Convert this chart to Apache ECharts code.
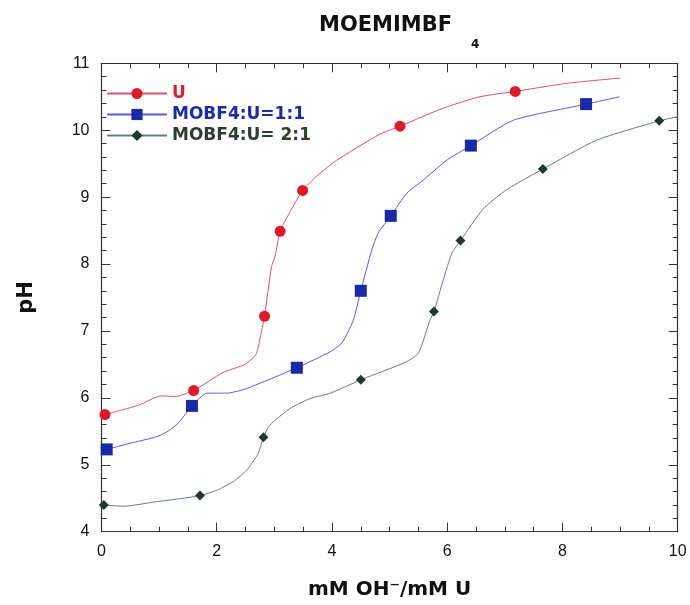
<!DOCTYPE html>
<html>
<head>
<meta charset="utf-8">
<script src="https://cdn.jsdelivr.net/npm/echarts@6/dist/echarts.min.js"></script>
<style>
  html, body { margin: 0; padding: 0; background: #fff; }
  #chart { width: 690px; height: 605px; }
</style>
</head>
<body>
<div id="chart"></div>
<script>
// Titration curves: pH versus added base (mM OH-/mM U)
const seriesNames = ['U', 'MOBF4:U=1:1', 'MOBF4:U= 2:1'];

// Measured points (drawn with markers)
const uPoints = [[0.06, 5.75], [1.60, 6.11], [2.83, 7.22], [3.10, 8.49], [3.49, 9.10], [5.18, 10.06], [7.18, 10.58]];
const mo11Points = [[0.09, 5.23], [1.57, 5.88], [3.39, 6.45], [4.50, 7.60], [5.02, 8.72], [6.41, 9.77], [8.41, 10.39]];
const mo21Points = [[0.04, 4.40], [1.71, 4.54], [2.81, 5.41], [4.50, 6.27], [5.77, 7.29], [6.23, 8.35], [7.66, 9.42], [9.68, 10.14]];

// Continuous titration readings between the marked points (line only)
const uTrace = [[0.64, 5.89], [1.04, 6.03], [1.28, 6.02], [2.11, 6.38], [2.49, 6.50], [2.68, 6.65], [2.78, 7.01],
  [2.95, 7.96], [3.01, 8.11], [3.24, 8.73], [3.73, 9.31], [4.08, 9.55], [4.83, 9.94], [5.93, 10.33], [6.57, 10.50],
  [8.07, 10.70], [9.00, 10.78]];
const mo11Trace = [[0.49, 5.32], [0.96, 5.42], [1.13, 5.49], [1.33, 5.62], [1.83, 6.07], [2.17, 6.07], [2.52, 6.14],
  [3.97, 6.69], [4.17, 6.82], [4.37, 7.16], [4.69, 8.21], [4.80, 8.46], [5.30, 9.06], [5.55, 9.23], [5.99, 9.55],
  [7.15, 10.15], [8.99, 10.50]];
const mo21Trace = [[0.38, 4.38], [0.96, 4.45], [1.42, 4.50], [2.00, 4.62], [2.29, 4.75], [2.52, 4.92], [2.72, 5.17],
  [2.92, 5.59], [3.27, 5.84], [3.62, 5.99], [3.97, 6.07], [5.27, 6.53], [5.50, 6.67], [5.70, 7.16], [5.93, 7.76],
  [6.08, 8.16], [6.62, 8.82], [7.03, 9.11], [8.59, 9.85], [10.00, 10.20]];

const xTicks = [0, 2, 4, 6, 8, 10];
const yTicks = [4, 5, 6, 7, 8, 9, 10, 11];

// Merge markers and trace readings into one ordered line; trace readings carry no symbol
function buildLine(points, trace) {
  const items = points.map(p => ({ value: p }))
    .concat(trace.map(p => ({ value: p, symbol: 'none' })));
  items.sort((a, b) => a.value[0] - b.value[0]);
  return items;
}

const axisColor = '#333';
const tickFont = { fontFamily: 'Liberation Sans', fontSize: 16, color: '#111' };

function xAxisCfg(pos, labels) {
  return {
    type: 'value', position: pos, min: xTicks[0], max: xTicks[xTicks.length - 1], interval: 2,
    axisLine: { show: true, onZero: false, lineStyle: { color: axisColor, width: 1.2 } },
    axisTick: { show: true, inside: true, length: 9, lineStyle: { color: axisColor } },
    minorTick: { show: true, splitNumber: 4, length: 5, lineStyle: { color: axisColor } },
    axisLabel: Object.assign({ show: labels, margin: 12 }, tickFont),
    splitLine: { show: false }
  };
}
function yAxisCfg(pos, labels) {
  return {
    type: 'value', position: pos, min: yTicks[0], max: yTicks[yTicks.length - 1], interval: 1,
    axisLine: { show: true, onZero: false, lineStyle: { color: axisColor, width: 1.2 } },
    axisTick: { show: true, inside: true, length: 9, lineStyle: { color: axisColor } },
    minorTick: { show: true, splitNumber: 5, length: 5, lineStyle: { color: axisColor } },
    axisLabel: Object.assign({ show: labels, margin: 12 }, tickFont),
    splitLine: { show: false }
  };
}

const chart = echarts.init(document.getElementById('chart'), null, { renderer: 'canvas' });

const xMain = xAxisCfg('bottom', true);
xMain.name = 'mM OH\u207B/mM U';
xMain.nameLocation = 'middle';
xMain.nameGap = 48;
xMain.nameTextStyle = { fontFamily: 'DejaVu Sans', fontWeight: 'bold', fontSize: 20, color: '#111' };

const yMain = yAxisCfg('left', true);
yMain.name = 'pH';
yMain.nameLocation = 'middle';
yMain.nameGap = 64;
yMain.nameTextStyle = { fontFamily: 'DejaVu Sans', fontWeight: 'bold', fontSize: 21, color: '#111' };

const legendFont = { fontFamily: 'DejaVu Sans', fontWeight: 'bold', fontSize: 17 };

chart.setOption({
  animation: false,
  backgroundColor: '#fff',
  title: [
    { text: 'MOEMIMBF', left: 314, top: 10,
      textStyle: { fontFamily: 'DejaVu Sans', fontWeight: 'bold', fontSize: 21, color: '#111' } },
    { text: '4', left: 466, top: 34,
      textStyle: { fontFamily: 'DejaVu Sans', fontWeight: 'bold', fontSize: 12, color: '#111' } }
  ],
  grid: { left: 101.5, right: 12.3, top: 63.3, bottom: 73.3, containLabel: false },
  xAxis: [xMain, xAxisCfg('top', false)],
  yAxis: [yMain, yAxisCfg('right', false)],
  legend: {
    left: 101, top: 80, orient: 'vertical', itemWidth: 60, itemHeight: 14, itemGap: 4,
    textStyle: legendFont,
    data: [
      { name: seriesNames[0], textStyle: Object.assign({ color: '#dd1c30' }, legendFont) },
      { name: seriesNames[1], textStyle: Object.assign({ color: '#1c2ca8' }, legendFont) },
      { name: seriesNames[2], textStyle: Object.assign({ color: '#2c3e30' }, legendFont) }
    ]
  },
  series: [
    {
      name: seriesNames[0], type: 'line', xAxisIndex: 0, yAxisIndex: 0, smooth: 0.2,
      symbol: 'circle', symbolSize: 11, showAllSymbol: true,
      lineStyle: { color: '#e2506c', width: 1 },
      itemStyle: { color: '#dd1a2c' },
      data: buildLine(uPoints, uTrace)
    },
    {
      name: seriesNames[1], type: 'line', xAxisIndex: 0, yAxisIndex: 0, smooth: 0.2,
      symbol: 'rect', symbolSize: 12, showAllSymbol: true,
      lineStyle: { color: '#5a5ae6', width: 1 },
      itemStyle: { color: '#1a2aa6' },
      data: buildLine(mo11Points, mo11Trace)
    },
    {
      name: seriesNames[2], type: 'line', xAxisIndex: 0, yAxisIndex: 0, smooth: 0.2,
      symbol: 'diamond', symbolSize: 10, showAllSymbol: true,
      lineStyle: { color: '#6c7896', width: 1 },
      itemStyle: { color: '#1f3a2a' },
      data: buildLine(mo21Points, mo21Trace)
    }
  ]
});
</script>
</body>
</html>
